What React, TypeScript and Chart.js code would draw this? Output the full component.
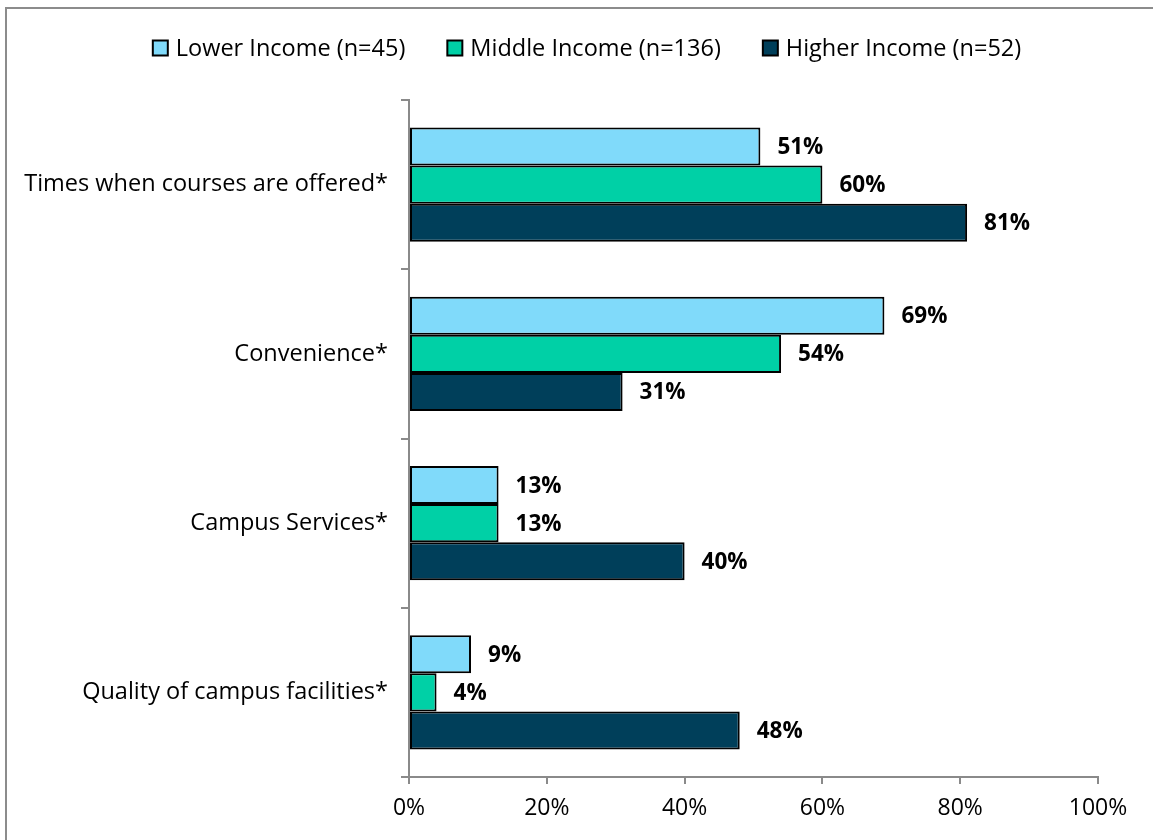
import React, { useEffect, useRef } from "react";
import { Chart, registerables } from "chart.js";

Chart.register(...registerables);

const categories = [
  "Times when courses are offered*",
  "Convenience*",
  "Campus Services*",
  "Quality of campus facilities*",
];
const seriesNames = ["Lower Income (n=45)", "Middle Income (n=136)", "Higher Income (n=52)"];
const lowerIncome = [51, 69, 13, 9];
const middleIncome = [60, 54, 13, 4];
const higherIncome = [81, 31, 40, 48];
const seriesColors = ["#80DAFA", "#00D0A6", "#003F5A"];
const xTickStep = 20;
const xMin = 0;
const xMax = 100;

const FONT = "'Open Sans'";
const AXIS_GRAY = "#8a8a8a";

export default function App() {
  const ref = useRef<HTMLCanvasElement | null>(null);

  useEffect(() => {
    if (!ref.current) return;

    const framePlugin = {
      id: "frame",
      beforeDraw(chart: any) {
        const ctx = chart.ctx;
        ctx.save();
        ctx.fillStyle = "#ffffff";
        ctx.fillRect(0, 0, chart.width, chart.height);
        ctx.strokeStyle = "#8c8c8c";
        ctx.lineWidth = 2;
        ctx.strokeRect(6, 8, chart.width + 50, chart.height + 50);
        ctx.restore();
      },
    };

    const labelPlugin = {
      id: "valueLabels",
      afterDatasetsDraw(chart: any) {
        const ctx = chart.ctx;
        ctx.save();
        ctx.font = `bold 22.5px ${FONT}`;
        ctx.fillStyle = "#000";
        ctx.textAlign = "left";
        ctx.textBaseline = "middle";
        chart.data.datasets.forEach((ds: any, i: number) => {
          const meta = chart.getDatasetMeta(i);
          meta.data.forEach((el: any, j: number) => {
            ctx.fillText(`${ds.data[j]}%`, el.x + 17, el.y + 1);
          });
        });
        ctx.restore();
      },
    };

    const legendPlugin = {
      id: "customLegend",
      afterDraw(chart: any) {
        const ctx = chart.ctx;
        ctx.save();
        ctx.font = `23.5px ${FONT}`;
        ctx.textBaseline = "middle";
        ctx.textAlign = "left";
        const box = 15;
        const gap = 8;
        const spacing = 42;
        const widths = seriesNames.map((n) => box + gap + ctx.measureText(n).width);
        const total = widths.reduce((a, b) => a + b, 0) + spacing * (widths.length - 1);
        let x = 587 - total / 2;
        const cy = 48;
        seriesNames.forEach((n, i) => {
          ctx.fillStyle = seriesColors[i];
          ctx.fillRect(x, cy - box / 2, box, box);
          ctx.strokeStyle = "#000";
          ctx.lineWidth = 2;
          ctx.strokeRect(x, cy - box / 2, box, box);
          ctx.fillStyle = "#000";
          ctx.fillText(n, x + box + gap, cy + 1);
          x += widths[i] + spacing;
        });
        ctx.restore();
      },
    };

    const chart = new Chart(ref.current, {
      type: "bar",
      data: {
        labels: categories,
        datasets: [lowerIncome, middleIncome, higherIncome].map((d, i) => ({
          label: seriesNames[i],
          data: d,
          backgroundColor: seriesColors[i],
          borderColor: "#000",
          borderWidth: 2,
          borderSkipped: false,
          categoryPercentage: 0.674,
          barPercentage: 1,
        })),
      },
      options: {
        indexAxis: "y",
        animation: false,
        responsive: false,
        devicePixelRatio: 1,
        layout: { padding: { top: 100, right: 55, left: 0, bottom: 0 } },
        plugins: {
          legend: { display: false },
          tooltip: { enabled: false },
        },
        scales: {
          x: {
            min: xMin,
            max: xMax,
            ticks: {
              stepSize: xTickStep,
              callback: (v: any) => `${v}%`,
              color: "#000",
              font: { family: FONT, size: 23 },
              padding: 11,
            },
            grid: { drawOnChartArea: false, drawTicks: true, tickLength: 7, color: AXIS_GRAY, lineWidth: 2 },
            border: { display: true, color: AXIS_GRAY, width: 2 },
            afterFit: (s: any) => {
              s.height = 63;
            },
          },
          y: {
            ticks: {
              color: "#000",
              font: { family: FONT, size: 23.5 },
              padding: 13,
            },
            grid: { drawOnChartArea: false, drawTicks: true, tickLength: 8, color: AXIS_GRAY, lineWidth: 2, offset: true },
            border: { display: true, color: AXIS_GRAY, width: 2 },
            afterFit: (s: any) => {
              s.width = 409;
            },
          },
        },
      },
      plugins: [framePlugin, labelPlugin, legendPlugin],
    });

    return () => chart.destroy();
  }, []);

  return (
    <div style={{ position: "fixed", left: 0, top: 0, width: 1153, height: 840 }}>
      <canvas ref={ref} width={1153} height={840} style={{ display: "block" }} />
    </div>
  );
}
